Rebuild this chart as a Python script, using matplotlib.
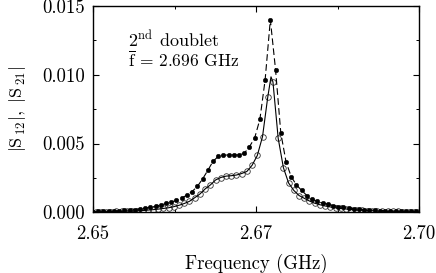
import matplotlib
matplotlib.use("Agg")
import matplotlib.pyplot as plt
from matplotlib.ticker import FixedLocator, FixedFormatter, MultipleLocator

plt.rcParams['font.family'] = ['cmr10', 'DejaVu Serif']
plt.rcParams['mathtext.fontset'] = 'cm'
plt.rcParams['axes.formatter.use_mathtext'] = True

# |S12| (filled dots, dashed line)
freq_s12 = [2.6500, 2.6508, 2.6516, 2.6524, 2.6532, 2.6540, 2.6548, 2.6556, 2.6564, 2.6572,
            2.6580, 2.6588, 2.6596, 2.6604, 2.6612, 2.6620, 2.6628, 2.6636, 2.6644, 2.6652,
            2.6660, 2.6668, 2.6676, 2.6684, 2.6692, 2.6700, 2.6708, 2.6716, 2.6724, 2.6732,
            2.6740, 2.6748, 2.6756, 2.6764, 2.6772, 2.6780, 2.6788, 2.6796, 2.6804, 2.6812,
            2.6820, 2.6828, 2.6836, 2.6844, 2.6852, 2.6860, 2.6868, 2.6876, 2.6884, 2.6892,
            2.6900, 2.6908, 2.6916, 2.6924, 2.6932, 2.6940, 2.6948, 2.6956, 2.6964, 2.6972,
            2.6980, 2.6988, 2.6996]
s12 = [0.00005, 0.00006, 0.00007, 0.00008, 0.00010, 0.00012, 0.00014, 0.00017, 0.00020, 0.00024,
       0.00030, 0.00036, 0.00044, 0.00053, 0.00064, 0.00075, 0.00086, 0.00102, 0.00126, 0.00151,
       0.00188, 0.00242, 0.00304, 0.00370, 0.00406, 0.00415, 0.00417, 0.00417, 0.00417, 0.00429,
       0.00477, 0.00541, 0.00677, 0.00963, 0.01400, 0.01036, 0.00579, 0.00368, 0.00259, 0.00199,
       0.00159, 0.00122, 0.00097, 0.00079, 0.00068, 0.00058, 0.00049, 0.00042, 0.00036, 0.00031,
       0.00027, 0.00023, 0.00020, 0.00017, 0.00015, 0.00013, 0.00012, 0.00010, 0.00009, 0.00008,
       0.00007, 0.00007, 0.00006]

# |S21| (open circles, solid line)
freq_s21 = [2.6504, 2.6512, 2.6520, 2.6528, 2.6536, 2.6544, 2.6552, 2.6560, 2.6568, 2.6576,
            2.6584, 2.6592, 2.6600, 2.6608, 2.6616, 2.6624, 2.6632, 2.6640, 2.6648, 2.6656,
            2.6664, 2.6672, 2.6680, 2.6688, 2.6696, 2.6704, 2.6712, 2.6720, 2.6728, 2.6736,
            2.6744, 2.6752, 2.6760, 2.6768, 2.6776, 2.6784, 2.6792, 2.6800, 2.6808, 2.6816,
            2.6824, 2.6832, 2.6840, 2.6848, 2.6856, 2.6864, 2.6872, 2.6880, 2.6888, 2.6896,
            2.6904, 2.6912, 2.6920, 2.6928, 2.6936, 2.6944, 2.6952, 2.6960, 2.6968, 2.6976,
            2.6984, 2.6992, 2.7000]
s21 = [0.00003, 0.00004, 0.00004, 0.00005, 0.00006, 0.00007, 0.00008, 0.00009, 0.00011, 0.00013,
       0.00016, 0.00019, 0.00023, 0.00028, 0.00033, 0.00041, 0.00051, 0.00064, 0.00080, 0.00106,
       0.00133, 0.00170, 0.00199, 0.00235, 0.00253, 0.00263, 0.00266, 0.00271, 0.00282, 0.00297,
       0.00342, 0.00413, 0.00550, 0.00837, 0.00948, 0.00539, 0.00325, 0.00213, 0.00159, 0.00122,
       0.00102, 0.00082, 0.00066, 0.00055, 0.00046, 0.00039, 0.00033, 0.00028, 0.00024, 0.00020,
       0.00017, 0.00015, 0.00013, 0.00011, 0.00009, 0.00008, 0.00007, 0.00007, 0.00006, 0.00005,
       0.00004, 0.00004, 0.00003]

# fitted-curve peak of the solid line (between measured points)
s21_fit_peak_freq = [2.6773]
s21_fit_peak = [0.00985]

x_ticks = [2.65, 2.675, 2.70]
x_tick_labels = ['2.65', '2.67', '2.70']
x_minor = [2.6625, 2.6875]
y_ticks = [0.000, 0.005, 0.010, 0.015]
y_tick_labels = ['0.000', '0.005', '0.010', '0.015']

fig = plt.figure(figsize=(4.36, 2.73), dpi=100)
ax = fig.add_axes([93/436, 1 - 212.3/273, (419 - 93)/436, (212.3 - 6)/273])

# solid fit line for S21 including its peak
fit_pts = sorted(zip(freq_s21 + s21_fit_peak_freq, s21 + s21_fit_peak))
ax.plot([p[0] for p in fit_pts], [p[1] for p in fit_pts], color='k', lw=0.8, zorder=3)
ax.plot(freq_s21, s21, ls='none', marker='o', ms=4.0, mfc='none', mec='#333333', mew=0.6, zorder=2)

ax.plot(freq_s12, s12, color='k', lw=0.8, ls=(0, (6, 3)), zorder=3)
ax.plot(freq_s12, s12, ls='none', marker='o', ms=3.3, mfc='k', mec='k', mew=0.3, zorder=4)

ax.set_xlim(2.65, 2.70)
ax.set_ylim(0, 0.015)
ax.xaxis.set_major_locator(FixedLocator(x_ticks))
ax.xaxis.set_major_formatter(FixedFormatter(x_tick_labels))
ax.xaxis.set_minor_locator(FixedLocator(x_minor))
ax.yaxis.set_major_locator(FixedLocator(y_ticks))
ax.yaxis.set_major_formatter(FixedFormatter(y_tick_labels))
ax.yaxis.set_minor_locator(MultipleLocator(0.0025))

ax.tick_params(which='both', direction='in', top=True, right=True, labelsize=13.5)
ax.tick_params(axis='x', pad=9)
ax.tick_params(axis='y', pad=6)
ax.tick_params(which='major', length=4, width=0.8)
ax.tick_params(which='minor', length=2.5, width=0.7)
for s in ax.spines.values():
    s.set_linewidth(1.0)

ax.set_xlabel('Frequency (GHz)', fontsize=13.5, labelpad=8)
ax.set_ylabel(r'$|\mathrm{S}_{\,12}|,\ |\mathrm{S}_{\,21}|$', fontsize=13, labelpad=10)

ax.text(0.107, 0.80, r'2$^{\mathrm{nd}}$ doublet', transform=ax.transAxes, fontsize=13)
ax.text(0.107, 0.705, r'$\overline{\mathrm{f}}$ = 2.696 GHz', transform=ax.transAxes, fontsize=12.5)

fig.savefig('out.png', dpi=100)
